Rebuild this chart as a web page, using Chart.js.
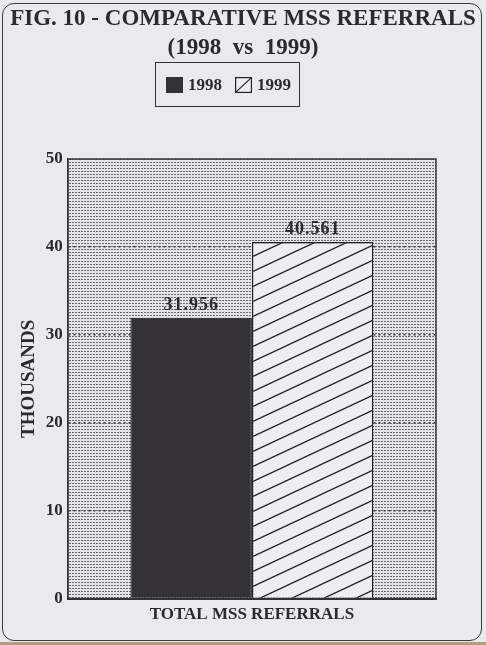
<!DOCTYPE html>
<html>
<head>
<meta charset="utf-8">
<script src="https://cdn.jsdelivr.net/npm/chart.js@4.4.0/dist/chart.umd.min.js"></script>
<style>
  html, body {
    margin: 0;
    padding: 0;
    width: 486px;
    height: 645px;
    overflow: hidden;
    background: #e9eaed;
    font-family: "Liberation Serif", "DejaVu Serif", serif;
  }
  .frame {
    position: absolute;
    left: 2px;
    top: 3px;
    width: 478px;
    height: 636px;
    border: 1.5px solid #3a3a3c;
    border-radius: 12px;
  }
  .edge {
    position: absolute;
    left: 0;
    top: 642px;
    width: 486px;
    height: 3px;
    background: #b79c7c;
  }
  #wrap {
    position: absolute;
    left: 0;
    top: 0;
    width: 486px;
    height: 645px;
  }
  #legend {
    position: absolute;
    left: 155px;
    top: 62px;
    width: 145px;
    height: 45px;
    box-sizing: border-box;
    border: 1px solid #333;
    display: flex;
    align-items: center;
    padding-left: 10px;
    font-weight: bold;
    font-size: 17px;
    color: #2b2a2e;
  }
  #legend .item {
    display: flex;
    align-items: center;
    margin-right: 13px;
  }
  #legend canvas {
    margin-right: 5px;
  }
</style>
</head>
<body>
<div class="frame"></div>
<div class="edge"></div>
<div id="wrap"><canvas id="chart" width="486" height="645"></canvas></div>
<div id="legend"></div>
<script>
const categories = ["TOTAL MSS REFERRALS"];
const years = ["1998", "1999"];
const referrals1998 = [31.956];
const referrals1999 = [40.561];
const yTicks = [0, 10, 20, 30, 40, 50];

const INK = "#2b2a2e";
const FONT = "'Liberation Serif', 'DejaVu Serif', serif";

// 점무늬 배경
function MakeDotPattern() {
  const c = document.createElement("canvas");
  c.width = 3;
  c.height = 3;
  const g = c.getContext("2d");
  g.fillStyle = "#e3e4e7";
  g.fillRect(0, 0, 3, 3);
  g.fillStyle = "#6c6c70";
  g.fillRect(0, 0, 2, 1);
  return g.createPattern(c, "repeat");
}

// 빗금 무늬
function MakeHatchPattern() {
  const w = 32,
    h = 15;
  const c = document.createElement("canvas");
  c.width = w;
  c.height = h;
  const g = c.getContext("2d");
  g.fillStyle = "#eceef1";
  g.fillRect(0, 0, w, h);
  g.strokeStyle = "#222";
  g.lineWidth = 1.3;
  for (let k = -1; k <= 1; k++) {
    g.beginPath();
    g.moveTo(-w, 2 * h + k * h);
    g.lineTo(2 * w, -h + k * h);
    g.stroke();
  }
  return g.createPattern(c, "repeat");
}

const dots = MakeDotPattern();
const hatch = MakeHatchPattern();

// 차트 영역 배경 + 테두리
const plotBackground = {
  id: "plotBackground",
  beforeDraw(chart) {
    const { ctx, chartArea: a } = chart;
    ctx.save();
    ctx.fillStyle = dots;
    ctx.fillRect(a.left, a.top, a.right - a.left, a.bottom - a.top);
    ctx.restore();
  },
  afterDraw(chart) {
    const { ctx, chartArea: a } = chart;
    ctx.save();
    ctx.strokeStyle = "#333";
    ctx.lineWidth = 1.5;
    ctx.strokeRect(a.left, a.top, a.right - a.left, a.bottom - a.top);
    ctx.restore();
  },
};

// 막대 위 값 표시
const barValues = {
  id: "barValues",
  afterDatasetsDraw(chart) {
    const { ctx } = chart;
    ctx.save();
    ctx.font = `bold 18px ${FONT}`;
    ctx.letterSpacing = "1px";
    ctx.fillStyle = INK;
    ctx.textAlign = "center";
    ctx.textBaseline = "alphabetic";
    chart.data.datasets.forEach((ds, i) => {
      chart.getDatasetMeta(i).data.forEach((bar, j) => {
        ctx.fillText(ds.data[j].toFixed(3), bar.x, bar.y - 8);
      });
    });
    ctx.restore();
  },
};

// 범례 (HTML)
const htmlLegend = {
  id: "htmlLegend",
  afterUpdate(chart) {
    const box = document.getElementById("legend");
    box.innerHTML = "";
    const items = chart.options.plugins.legend.labels.generateLabels(chart);
    items.forEach((item) => {
      const el = document.createElement("div");
      el.className = "item";
      const sw = document.createElement("canvas");
      sw.width = 17;
      sw.height = 16;
      const g = sw.getContext("2d");
      if (typeof item.fillStyle === "string") {
        g.fillStyle = item.fillStyle;
        g.fillRect(0, 0, 17, 16);
      } else {
        g.fillStyle = "#eceef1";
        g.fillRect(0, 0, 17, 16);
        g.strokeStyle = "#222";
        g.lineWidth = 1.2;
        g.strokeRect(0.6, 0.6, 15.8, 14.8);
        g.beginPath();
        g.moveTo(0.6, 15.4);
        g.lineTo(16.4, 0.6);
        g.stroke();
      }
      const txt = document.createElement("span");
      txt.textContent = item.text;
      el.appendChild(sw);
      el.appendChild(txt);
      box.appendChild(el);
    });
  },
};

new Chart(document.getElementById("chart").getContext("2d"), {
  type: "bar",
  data: {
    labels: categories,
    datasets: [
      {
        label: years[0],
        data: referrals1998,
        backgroundColor: "#343236",
        borderColor: "#222",
        borderWidth: 1.2,
      },
      {
        label: years[1],
        data: referrals1999,
        backgroundColor: hatch,
        borderColor: "#222",
        borderWidth: 1.5,
      },
    ],
  },
  options: {
    responsive: false,
    animation: false,
    devicePixelRatio: 1,
    categoryPercentage: 0.66,
    barPercentage: 1,
    layout: {
      padding: { left: 0, right: 0, top: 0, bottom: 14 },
    },
    plugins: {
      legend: { display: false },
      tooltip: { enabled: false },
      title: {
        display: true,
        text: ["FIG. 10 - COMPARATIVE MSS REFERRALS", "(1998  vs  1999)"],
        color: INK,
        font: { family: FONT, size: 23, weight: "bold", lineHeight: 1.25 },
        padding: { top: 5, bottom: 96.5 },
      },
    },
    scales: {
      x: {
        grid: { display: false, drawTicks: false },
        border: { display: true, color: "#333", width: 2 },
        ticks: {
          color: INK,
          padding: 6,
          font: { family: FONT, size: 17, weight: "bold" },
        },
      },
      y: {
        min: yTicks[0],
        max: yTicks[yTicks.length - 1],
        afterBuildTicks: (scale) => {
          scale.ticks = yTicks.map((v) => ({ value: v }));
        },
        grid: {
          drawTicks: false,
          lineWidth: 1.5,
          color: (c) =>
            c.tick && c.tick.value > yTicks[0] && c.tick.value < yTicks[yTicks.length - 1]
              ? "#3a3a3c"
              : "transparent",
        },
        border: { display: true, color: "#333", width: 1.5, dash: [2, 3] },
        ticks: {
          color: INK,
          padding: 5,
          font: { family: FONT, size: 17, weight: "bold" },
        },
        title: {
          display: true,
          text: "THOUSANDS",
          color: INK,
          padding: { top: 18, bottom: 0 },
          font: { family: FONT, size: 19, weight: "bold" },
        },
      },
      // 오른쪽 여백용 축
      yRight: {
        position: "right",
        display: true,
        grid: { display: false },
        border: { display: false },
        ticks: { display: false },
        afterFit: (scale) => {
          scale.width = 50;
        },
      },
    },
  },
  plugins: [plotBackground, barValues, htmlLegend],
});
</script>
</body>
</html>
